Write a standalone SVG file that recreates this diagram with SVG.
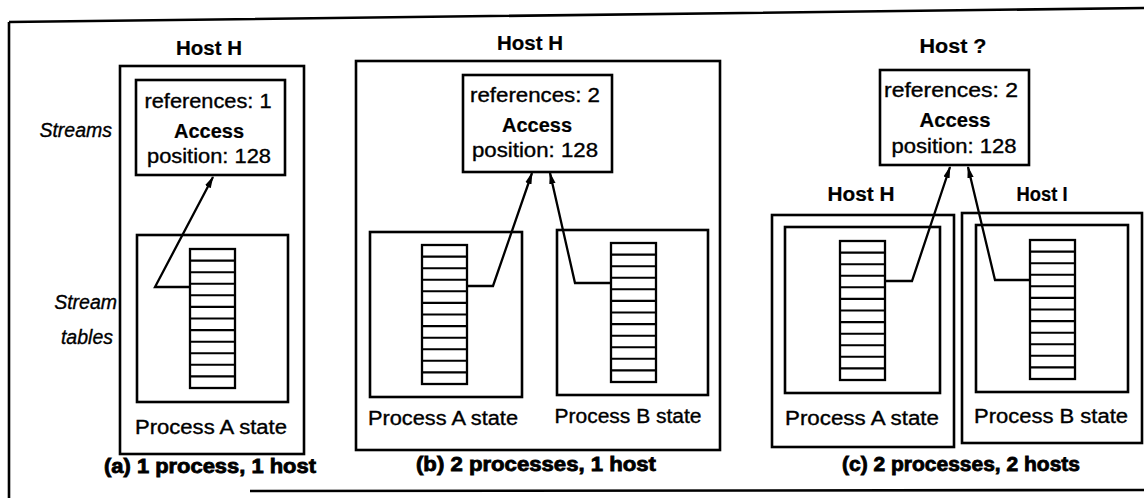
<svg xmlns="http://www.w3.org/2000/svg" width="1144" height="498" viewBox="0 0 1144 498">
<style>
.box{fill:none;stroke:#000;stroke-width:2.6}
.tbl{fill:#fff;stroke:#000;stroke-width:2.3}
.row{stroke:#000;stroke-width:2.1}
.ptr{fill:none;stroke:#000;stroke-width:2.3}
text{font-family:"Liberation Sans",Arial,sans-serif;font-size:19.5px;fill:#000;stroke:#000;stroke-width:0.35}
.c{text-anchor:middle}
.b{font-weight:bold;stroke-width:0.2}
.it{font-style:italic;text-anchor:end}
.cap{font-weight:bold;text-anchor:middle;font-size:20px;stroke-width:0.8}
</style>
<defs>
<marker id="ah" markerUnits="userSpaceOnUse" markerWidth="12" markerHeight="8" refX="11" refY="4" orient="auto">
<path d="M0,0.8 L12,4 L0,7.2 Z" fill="#000"/>
</marker>
<g id="table">
<rect class="tbl" x="0" y="0" width="45" height="139"/>
<path class="row" d="M0,11.6H45M0,23.2H45M0,34.8H45M0,46.3H45M0,57.9H45M0,69.5H45M0,81.1H45M0,92.7H45M0,104.3H45M0,115.8H45M0,127.4H45"/>
</g>
</defs>
<rect width="1144" height="498" fill="#fff"/>

<g id="frame">
<path class="box" d="M9,22 L1144,8 M9,22 L9,498 M250,491 L1144,490"/>
</g>

<g id="labels">
<text class="it" x="112" y="137">Streams</text>
<text class="it" x="117" y="309">Stream</text>
<text class="it" x="113" y="344">tables</text>
</g>

<g id="panel-a">
<text class="c b" x="209" y="55" textLength="66" lengthAdjust="spacingAndGlyphs">Host H</text>
<rect class="box" x="120" y="66" width="184" height="388"/>
<g id="stream-a">
<rect class="box" x="136" y="80" width="149" height="95"/>
<text class="c" x="208" y="108" textLength="127" lengthAdjust="spacingAndGlyphs">references: 1</text>
<text class="c b" x="209" y="138" textLength="70" lengthAdjust="spacingAndGlyphs">Access</text>
<text class="c" x="209" y="163" textLength="124" lengthAdjust="spacingAndGlyphs">position: 128</text>
</g>
<g id="proc-a">
<rect class="box" x="137" y="235" width="151" height="167"/>
<use href="#table" x="190" y="249"/>
<text class="c" x="211" y="434" textLength="152" lengthAdjust="spacingAndGlyphs">Process A state</text>
</g>
<text class="cap" x="210" y="473" textLength="212" lengthAdjust="spacingAndGlyphs">(a) 1 process, 1 host</text>
</g>

<g id="panel-b">
<text class="c b" x="530" y="50" textLength="66" lengthAdjust="spacingAndGlyphs">Host H</text>
<rect class="box" x="356" y="61" width="364" height="389"/>
<g id="stream-b">
<rect class="box" x="463" y="75" width="149" height="97"/>
<text class="c" x="535" y="102" textLength="130" lengthAdjust="spacingAndGlyphs">references: 2</text>
<text class="c b" x="537" y="132" textLength="70" lengthAdjust="spacingAndGlyphs">Access</text>
<text class="c" x="535" y="157" textLength="126" lengthAdjust="spacingAndGlyphs">position: 128</text>
</g>
<g id="proc-b-a">
<rect class="box" x="370" y="232" width="152" height="165"/>
<use href="#table" x="422" y="245"/>
<text class="c" x="443" y="425" textLength="150" lengthAdjust="spacingAndGlyphs">Process A state</text>
</g>
<g id="proc-b-b">
<rect class="box" x="557" y="230" width="151" height="165"/>
<use href="#table" x="611" y="243"/>
<text class="c" x="628" y="423" textLength="147" lengthAdjust="spacingAndGlyphs">Process B state</text>
</g>
<text class="cap" x="536" y="471" textLength="240" lengthAdjust="spacingAndGlyphs">(b) 2 processes, 1 host</text>
</g>

<g id="panel-c">
<text class="c b" x="953" y="53" textLength="67" lengthAdjust="spacingAndGlyphs">Host ?</text>
<g id="stream-c">
<rect class="box" x="880" y="70" width="149" height="95"/>
<text class="c" x="951" y="97" textLength="134" lengthAdjust="spacingAndGlyphs">references: 2</text>
<text class="c b" x="955" y="127" textLength="71" lengthAdjust="spacingAndGlyphs">Access</text>
<text class="c" x="954" y="153" textLength="125" lengthAdjust="spacingAndGlyphs">position: 128</text>
</g>
<g id="host-c-h">
<text class="c b" x="861" y="201" textLength="67" lengthAdjust="spacingAndGlyphs">Host H</text>
<rect class="box" x="772" y="215" width="182" height="232"/>
<rect class="box" x="785" y="227" width="155" height="166"/>
<use href="#table" x="840" y="241"/>
<text class="c" x="862" y="425" textLength="154" lengthAdjust="spacingAndGlyphs">Process A state</text>
</g>
<g id="host-c-i">
<text class="c b" x="1042" y="201" textLength="51" lengthAdjust="spacingAndGlyphs">Host I</text>
<rect class="box" x="962" y="213" width="180" height="230"/>
<rect class="box" x="976" y="225" width="152" height="167"/>
<use href="#table" x="1030" y="240"/>
<text class="c" x="1051" y="423" textLength="154" lengthAdjust="spacingAndGlyphs">Process B state</text>
</g>
<text class="cap" x="961" y="471" textLength="238" lengthAdjust="spacingAndGlyphs">(c) 2 processes, 2 hosts</text>
</g>

<g id="connectors">
<polyline class="ptr" points="190,287 155,287 213,177" marker-end="url(#ah)"/>
<polyline class="ptr" points="467,286 493,286 532,173" marker-end="url(#ah)"/>
<polyline class="ptr" points="611,283 575,283 550,173" marker-end="url(#ah)"/>
<polyline class="ptr" points="885,281 912,281 950,167" marker-end="url(#ah)"/>
<polyline class="ptr" points="1030,280 995,280 968,167" marker-end="url(#ah)"/>
</g>
</svg>
